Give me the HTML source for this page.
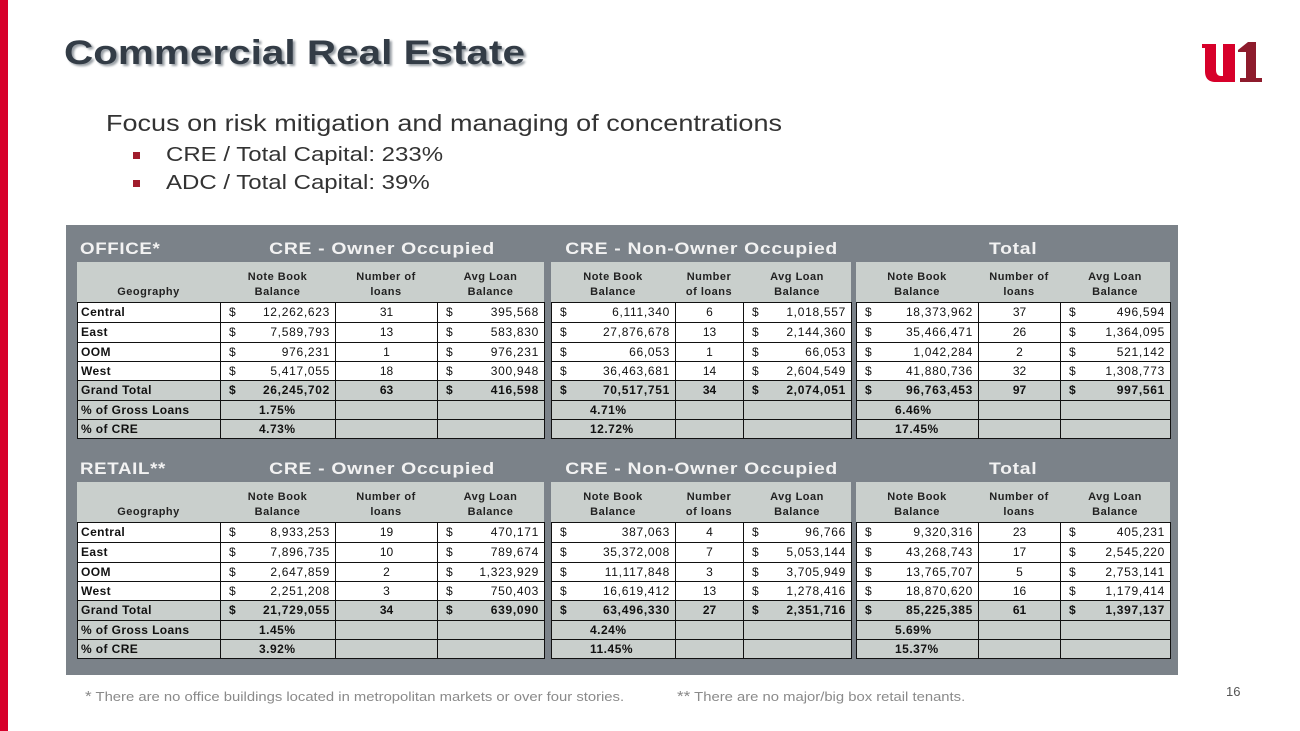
<!DOCTYPE html>
<html><head><meta charset="utf-8">
<style>
body{margin:0;width:1300px;height:731px;background:#fff;position:relative;overflow:hidden;font-family:"Liberation Sans",Arial,sans-serif;}
.abs{position:absolute;}
.cell{position:absolute;box-sizing:border-box;font-size:12px;color:#111;line-height:19px;white-space:nowrap;}
.hdr{position:absolute;background:#c9cfcc;}
.ht{position:absolute;font-size:11px;font-weight:bold;color:#222;text-align:center;line-height:15px;letter-spacing:0.5px;}
.sec{position:absolute;font-size:17px;font-weight:bold;color:#f2f2f2;letter-spacing:0.6px;}
.sx{display:inline-block;transform:scaleX(1.14);transform-origin:center;}
</style></head><body>
<div class="abs" style="left:0;top:0;width:8px;height:731px;background:#d7002a;"></div>
<div class="abs" style="left:64px;top:34px;font-size:34px;font-weight:bold;color:#333c46;text-shadow:2px 2px 2px #9aa0a6;transform:scaleX(1.19);transform-origin:left;">Commercial Real Estate</div>
<div class="abs" style="left:1200px;top:38px;width:62px;height:44px;">
<svg width="62" height="44" viewBox="0 0 62 44"><path d="M2 6h14v26c0 4 2 6 5 6h2V6h12v38H16C8 44 5 40 5 33V10H2z" fill="#d7002a"/><path d="M38 12l10-8h8v36h6v4H40v-4h6V14h-8z" fill="#8d1b2c"/></svg></div>
<div class="abs" style="left:106px;top:110px;font-size:23px;color:#333;transform:scaleX(1.175);transform-origin:left;">Focus on risk mitigation and managing of concentrations</div>
<div class="abs" style="left:133px;top:152px;width:7px;height:7px;background:#a01c2c;"></div>
<div class="abs" style="left:166px;top:144px;font-size:20px;color:#333;transform:scaleX(1.2);transform-origin:left;">CRE / Total Capital: 233%</div>
<div class="abs" style="left:133px;top:180px;width:7px;height:7px;background:#a01c2c;"></div>
<div class="abs" style="left:166px;top:172px;font-size:20px;color:#333;transform:scaleX(1.2);transform-origin:left;">ADC / Total Capital: 39%</div>
<div class="abs" style="left:66px;top:225px;width:1112px;height:450px;background:#7b8289;"></div>
<div id="tables"></div>
<div class="abs" style="left:85px;top:688px;font-size:13px;color:#8a8a8a;transform:scaleX(1.14);transform-origin:left;"><span style="font-size:15px">*</span> There are no office buildings located in metropolitan markets or over four stories.</div>
<div class="abs" style="left:677px;top:688px;font-size:13px;color:#8a8a8a;transform:scaleX(1.14);transform-origin:left;"><span style="font-size:15px">**</span> There are no major/big box retail tenants.</div>
<div class="abs" style="left:1226px;top:684px;font-size:13px;color:#555;">16</div>
<script>
const geographies=["Central","East","OOM","West","Grand Total"];
const officeOwnerBal=["12,262,623","7,589,793","976,231","5,417,055","26,245,702"];
const officeOwnerNum=["31","13","1","18","63"];
const officeOwnerAvg=["395,568","583,830","976,231","300,948","416,598"];
const officeOwnerPct=["1.75%","4.73%"];
const officeNonBal=["6,111,340","27,876,678","66,053","36,463,681","70,517,751"];
const officeNonNum=["6","13","1","14","34"];
const officeNonAvg=["1,018,557","2,144,360","66,053","2,604,549","2,074,051"];
const officeNonPct=["4.71%","12.72%"];
const officeTotBal=["18,373,962","35,466,471","1,042,284","41,880,736","96,763,453"];
const officeTotNum=["37","26","2","32","97"];
const officeTotAvg=["496,594","1,364,095","521,142","1,308,773","997,561"];
const officeTotPct=["6.46%","17.45%"];
const retailOwnerBal=["8,933,253","7,896,735","2,647,859","2,251,208","21,729,055"];
const retailOwnerNum=["19","10","2","3","34"];
const retailOwnerAvg=["470,171","789,674","1,323,929","750,403","639,090"];
const retailOwnerPct=["1.45%","3.92%"];
const retailNonBal=["387,063","35,372,008","11,117,848","16,619,412","63,496,330"];
const retailNonNum=["4","7","3","13","27"];
const retailNonAvg=["96,766","5,053,144","3,705,949","1,278,416","2,351,716"];
const retailNonPct=["4.24%","11.45%"];
const retailTotBal=["9,320,316","43,268,743","13,765,707","18,870,620","85,225,385"];
const retailTotNum=["23","17","5","16","61"];
const retailTotAvg=["405,231","2,545,220","2,753,141","1,179,414","1,397,137"];
const retailTotPct=["5.69%","15.37%"];
const pctLabels=["% of Gross Loans","% of CRE"];

const root=document.getElementById('tables');
const rowY=[302,322,342,361,380,400,419,438];
function mk(cls,x,y,w,h,html,name,extra){
  const d=document.createElement('div');
  d.className=cls;
  d.style.left=x+'px';d.style.top=y+'px';d.style.width=w+'px';d.style.height=h+'px';
  if(extra)d.style.cssText+=extra;
  d.innerHTML=html;
  
  
  root.appendChild(d);return d;
}
function block(off,cols,bal,num,avg,pct,numHdr,prefix,withGeo){
  const [a,b,c,e]=cols;
  const hx=withGeo?77:a;
  mk('hdr',hx,262+off,e-hx,40,'',prefix+'-header-bg');
  if(withGeo) mk('ht',77,285+off,143,15,'Geography',prefix+'-geography-header');
  mk('ht',a,270+off,b-a,30,'Note Book<br>Balance',prefix+'-note-header');
  mk('ht',b,270+off,c-b,30,numHdr,prefix+'-number-header');
  mk('ht',c,270+off,e-c,30,'Avg Loan<br>Balance',prefix+'-avg-header');
  for(let r=0;r<7;r++){
    const y=rowY[r]+off,h=rowY[r+1]-rowY[r];
    const gray=r>=4;const bg=gray?'#c9cfcc':'#fff';
    const fw=r>=4?'bold':'normal';
    const bs='border:1px solid #111;background:'+bg+';font-weight:'+fw+';';
    if(withGeo){
      const lab=r<5?geographies[r]:pctLabels[r-5];
      mk('cell',77,y,144,h+1,'<span style="padding-left:3px;font-weight:bold;letter-spacing:0.4px">'+lab+'</span>',prefix+'-geo-'+r,bs);
    }
    if(r<5){
      mk('cell',a,y,b-a+1,h+1,'<span style="position:absolute;left:8px">$</span><span style="position:absolute;right:5px">'+bal[r]+'</span>',prefix+'-balance-'+r,bs+'letter-spacing:0.7px;');
      mk('cell',b,y,c-b+1,h+1,'<div style="text-align:center">'+num[r]+'</div>',prefix+'-count-'+r,bs);
      mk('cell',c,y,e-c+1,h+1,'<span style="position:absolute;left:8px">$</span><span style="position:absolute;right:5px">'+avg[r]+'</span>',prefix+'-avg-'+r,bs+'letter-spacing:0.7px;');
    } else {
      mk('cell',a,y,b-a+1,h+1,'<span style="position:absolute;left:38px;letter-spacing:0.5px">'+pct[r-5]+'</span>',prefix+'-pct-'+r,bs);
      mk('cell',b,y,c-b+1,h+1,'',prefix+'-blank-'+r,bs);
      mk('cell',c,y,e-c+1,h+1,'',prefix+'-blank2-'+r,bs);
    }
  }
}
function section(off,name,data){
  const p=name.toLowerCase().replace(/\W/g,'');
  mk('sec',80,239+off,200,22,'<span style="display:inline-block;transform:scaleX(1.1);transform-origin:left">'+name+'</span>',p+'-label');
  mk('sec',260,239+off,245,22,'<div style="text-align:center"><span class="sx">CRE - Owner Occupied</span></div>',p+'-owner-occupied-title');
  mk('sec',551,239+off,302,22,'<div style="text-align:center"><span class="sx">CRE - Non-Owner Occupied</span></div>',p+'-non-owner-occupied-title');
  mk('sec',856,239+off,314,22,'<div style="text-align:center"><span class="sx">Total</span></div>',p+'-total-title');
  block(off,[220,335,437,544],data[0],data[1],data[2],data[3],'Number of<br>loans',p+'-owner',true);
  block(off,[551,675,743,851],data[4],data[5],data[6],data[7],'Number<br>of loans',p+'-nonowner',false);
  block(off,[856,978,1060,1170],data[8],data[9],data[10],data[11],'Number of<br>loans',p+'-total',false);
}
section(0,'OFFICE*',[officeOwnerBal,officeOwnerNum,officeOwnerAvg,officeOwnerPct,officeNonBal,officeNonNum,officeNonAvg,officeNonPct,officeTotBal,officeTotNum,officeTotAvg,officeTotPct]);
section(220,'RETAIL**',[retailOwnerBal,retailOwnerNum,retailOwnerAvg,retailOwnerPct,retailNonBal,retailNonNum,retailNonAvg,retailNonPct,retailTotBal,retailTotNum,retailTotAvg,retailTotPct]);
</script>
</body></html>
